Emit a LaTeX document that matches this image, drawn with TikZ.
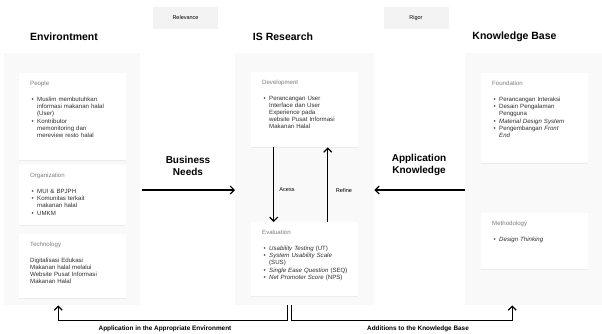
\documentclass[tikz,border=0pt]{standalone}
\usepackage{fontspec}
\setmainfont{Liberation Sans}
\usetikzlibrary{arrows.meta, positioning, shadows}
\definecolor{PanelGray}{RGB}{249,249,249}
\definecolor{TagGray}{RGB}{243,243,243}
\definecolor{HeadGray}{RGB}{125,125,125}
\definecolor{InkGray}{RGB}{45,45,45}

\newcommand{\cardhead}[1]{{\color{HeadGray}#1}\par\vspace{9pt}}
\newcommand{\bitem}[1]{\par\noindent\makebox[7pt][l]{\hspace{1.5pt}\textbullet}%
  \begin{tabular}[t]{@{}l@{}}#1\end{tabular}}

\tikzset{
  panel/.style={fill=PanelGray, draw=none, inner sep=0pt, anchor=north west},
  card/.style={fill=white, draw=none, inner sep=0pt, minimum width=107pt, anchor=north west,
    drop shadow={shadow xshift=0pt, shadow yshift=-1pt, opacity=0.10}},
  cardtext/.style={text width=92pt, align=left, inner sep=0pt, text=InkGray,
    font=\fontsize{6.1}{6.9}\selectfont},
  title/.style={font=\fontsize{10.5}{12}\selectfont\bfseries},
  tag/.style={fill=TagGray, minimum width=65pt, minimum height=22pt, font=\fontsize{5.5}{6}\selectfont},
  flow/.style={-{Straight Barb[length=4pt, width=8pt]}, line width=1.2pt},
  flowlabel/.style={font=\fontsize{10}{12.5}\selectfont\bfseries, align=center},
  small/.style={font=\fontsize{5.6}{6}\selectfont},
  bottomlabel/.style={font=\fontsize{6.4}{7}\selectfont\bfseries},
}

\begin{document}
\begin{tikzpicture}[x=1pt, y=-1pt]
  \useasboundingbox (0,0) rectangle (602,333);

  % tags and column titles
  \node[tag] (relevance) at (185.5,18) {Relevance};
  \node[tag] (rigor) at (416,18) {Rigor};
  \node[title] (envtitle) at (64,37) {Environtment};
  \node[title] (istitle) at (283,37) {IS Research};
  \node[title] (kbtitle) at (514.5,37) {Knowledge Base};

  % columns
  \node[panel, minimum width=136pt, minimum height=252pt] (envpanel) at (4,53) {};
  \node[panel, minimum width=139pt, minimum height=252pt] (ispanel) at (235,53) {};
  \node[panel, minimum width=137pt, minimum height=252pt] (kbpanel) at (465,53) {};

  % environment
  \node[card, minimum height=87pt] (people) at (19,73) {};
  \node[cardtext, below right=8pt and 11pt of people.north west] (peopletxt) {%
    \cardhead{People}
    \bitem{Muslim membutuhkan\\informasi makanan halal\\(User)}
    \bitem{Kontributor\\memonitoring dan\\mereview resto halal}};
  \node[card, minimum height=60pt] (org) at (19,165) {};
  \node[cardtext, below right=8pt and 11pt of org.north west] (orgtxt) {%
    \cardhead{Organization}
    \bitem{MUI \& BPJPH}
    \bitem{Komunitas terkait\\makanan halal}
    \bitem{UMKM}};
  \node[card, minimum height=64pt] (tech) at (19,234) {};
  \node[cardtext, below right=8pt and 11pt of tech.north west] (techtxt) {%
    \cardhead{Technology}
    Digitalisasi Edukasi\\Makanan halal melalui\\Website Pusat Informasi\\Makanan Halal};

  % is research
  \node[card, minimum height=75pt] (dev) at (251,72) {};
  \node[cardtext, below right=8pt and 11pt of dev.north west] (devtxt) {%
    \cardhead{Development}
    \bitem{Perancangan User\\Interface dan User\\Experience pada\\website Pusat Informasi\\Makanan Halal}};
  \node[card, minimum height=74pt] (eval) at (251,222) {};
  \node[cardtext, below right=8pt and 11pt of eval.north west] (evaltxt) {%
    \cardhead{Evaluation}
    \bitem{\textit{Usability Testing} (UT)}
    \bitem{\textit{System Usability Scale}\\(SUS)}
    \bitem{\textit{Single Ease Question} (SEQ)}
    \bitem{\textit{Net Promoter Score} (NPS)}};

  % knowledge base
  \node[card, minimum height=90pt] (found) at (481,73) {};
  \node[cardtext, below right=8pt and 11pt of found.north west] (foundtxt) {%
    \cardhead{Foundation}
    \bitem{Perancangan Interaksi}
    \bitem{Desain Pengalaman\\Pengguna}
    \bitem{\textit{Material Design System}}
    \bitem{Pengembangan \textit{Front}\\\textit{End}}};
  \node[card, minimum height=56pt] (method) at (481,213) {};
  \node[cardtext, below right=8pt and 11pt of method.north west] (methodtxt) {%
    \cardhead{Methodology}
    \bitem{\textit{Design Thinking}}};

  % flows between columns
  \coordinate (midrow) at (0,190);
  \node[flowlabel] (needs) at (188,166) {Business\\Needs};
  \node[flowlabel] (appknow) at (419,165) {Application\\Knowledge};
  \draw[flow] ([xshift=2pt]envpanel.east |- midrow) -- (ispanel.west |- midrow);
  \draw[flow] (kbpanel.west |- midrow) -- (ispanel.east |- midrow);

  % build / evaluate loop
  \draw[flow] ([xshift=-31pt]dev.south) -- ([xshift=-31pt]eval.north);
  \draw[flow] ([xshift=23pt]eval.north) -- ([xshift=23pt]dev.south);
  \node[small] (acess) at (287,190) {Acess};
  \node[small] (refine) at (344,190) {Refine};

  % feedback to the outer columns
  \draw[flow] ([xshift=-17.5pt]ispanel.south) -- ++(0,15) -| ([xshift=-14pt]envpanel.south);
  \draw[flow] ([xshift=-13.5pt]ispanel.south) -- ++(0,15) -| ([xshift=-21.5pt]kbpanel.south);
  \node[bottomlabel] (applbl) at (165,329) {Application in the Appropriate Environment};
  \node[bottomlabel] (addlbl) at (418,329) {Additions to the Knowledge Base};
\end{tikzpicture}
\end{document}
